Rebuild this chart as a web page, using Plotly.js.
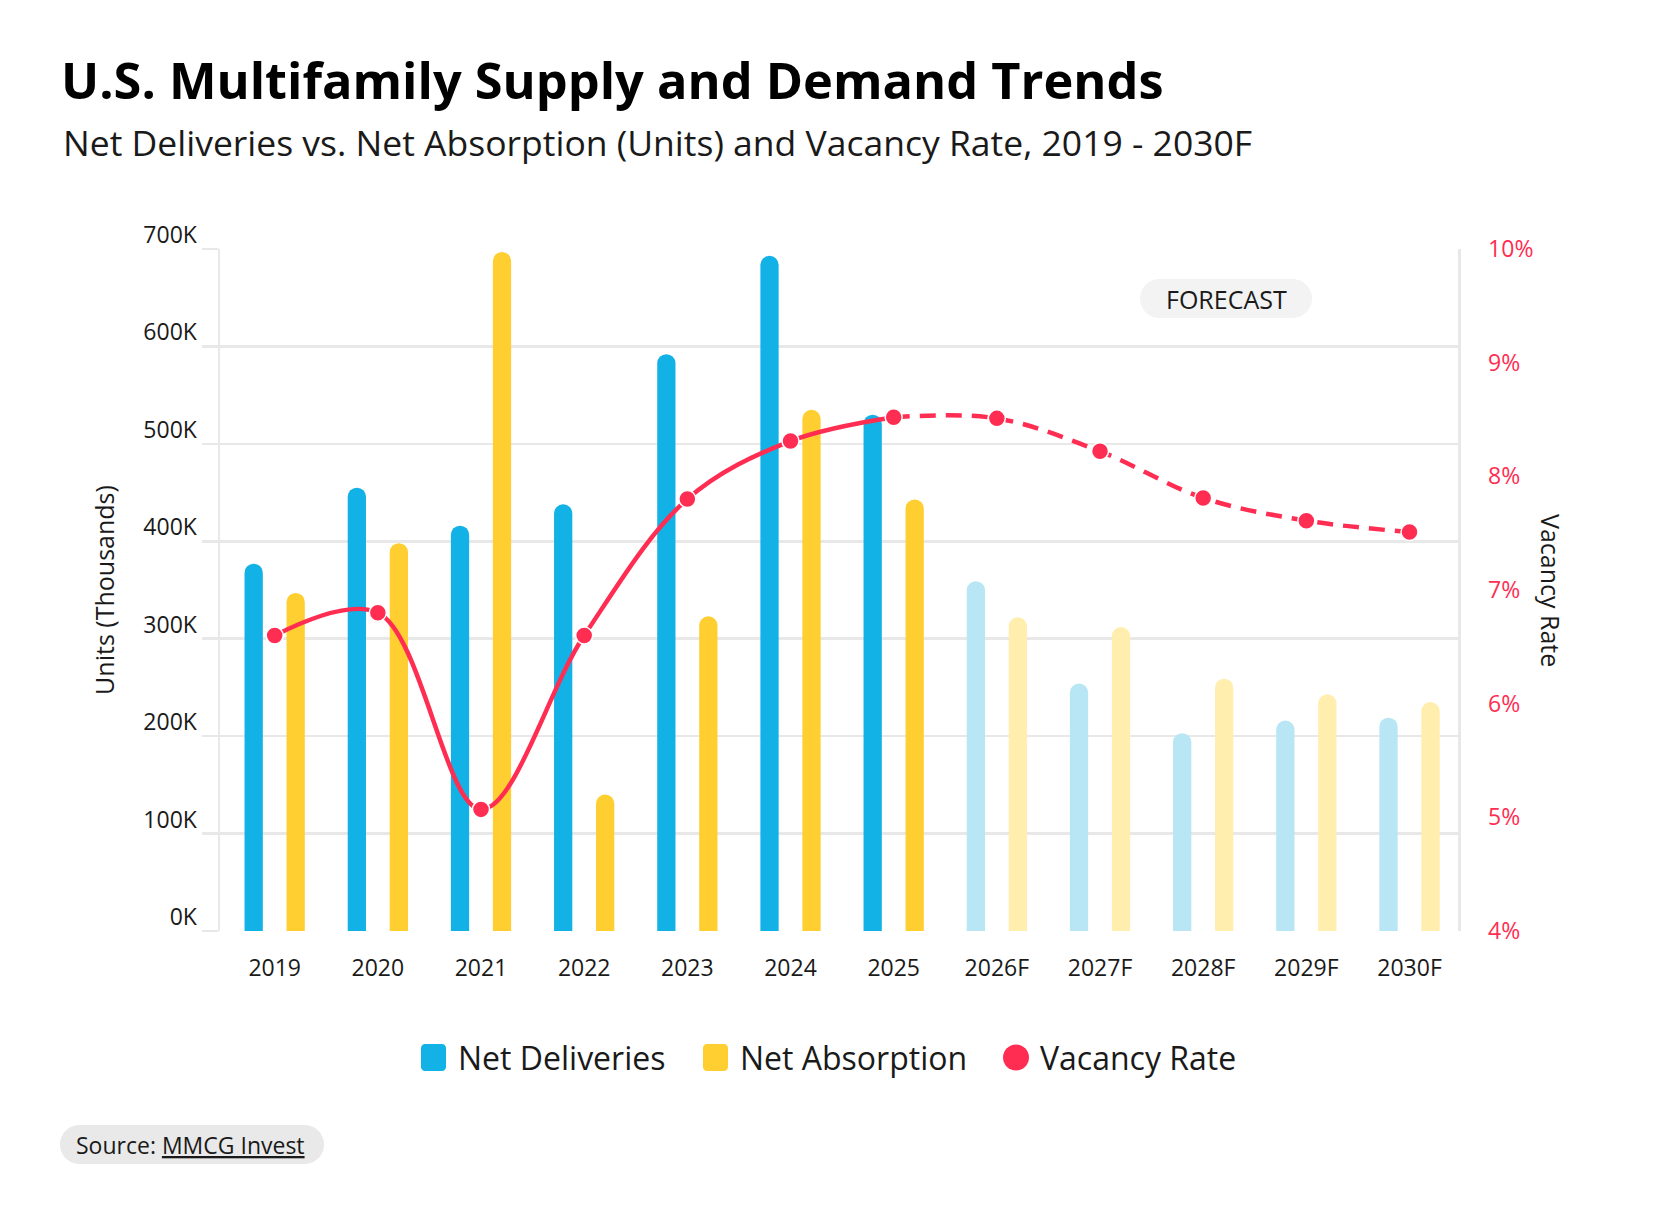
<!DOCTYPE html>
<html>
<head>
<meta charset="utf-8">
<script src="https://cdn.plot.ly/plotly-3.0.1.min.js"></script>
<style>
  html, body { margin: 0; padding: 0; background: #ffffff; }
  #chart { width: 1680px; height: 1209px; }
</style>
</head>
<body>
<div id="chart"></div>
<script>
// ---------- data ----------
const years = ['2019','2020','2021','2022','2023','2024','2025','2026F','2027F','2028F','2029F','2030F'];
const isForecast = [false,false,false,false,false,false,false,true,true,true,true,true];
const netDeliveries = [377, 455, 416, 438, 592, 693, 530, 359, 254, 203, 216, 219];   // thousands of units
const netAbsorption = [347, 398, 697, 140, 323, 535, 443, 322, 312, 259, 243, 235];   // thousands of units
const vacancyRate = [6.6, 6.8, 5.07, 6.6, 7.8, 8.31, 8.52, 8.51, 8.22, 7.81, 7.61, 7.51]; // percent
const unitTicks = [0, 100, 200, 300, 400, 500, 600, 700];
const unitTickLabels = ['0K','100K','200K','300K','400K','500K','600K','700K'];
const rateTicks = [4, 5, 6, 7, 8, 9, 10];
const rateTickLabels = ['4%','5%','6%','7%','8%','9%','10%'];

// ---------- style ----------
const FONT = '"Open Sans", "Noto Sans", sans-serif';
const BLUE = '#12B2E6', BLUE_L = '#B8E6F5';
const YELLOW = '#FFCE31', YELLOW_L = '#FFEEAD';
const RED = '#FF2D52';
const GRID = '#E8E8E8';
const TXT = '#1a1a1a';

const W = 1680, H = 1209;
const PL = 220, PR = 1458, PT = 249, PB = 931;
const xp = px => (px - PL) / (PR - PL);
const yp = py => (PB - py) / (PB - PT);

const lastActual = isForecast.indexOf(true) - 1;

const traces = [
  {
    type: 'bar', name: 'Net Deliveries', x: years, y: netDeliveries,
    width: 0.177, offset: -0.292,
    marker: { color: years.map((y, i) => isForecast[i] ? BLUE_L : BLUE), cornerradius: 9, line: {width: 0} },
    showlegend: false
  },
  {
    type: 'bar', name: 'Net Absorption', x: years, y: netAbsorption,
    width: 0.177, offset: 0.115,
    marker: { color: years.map((y, i) => isForecast[i] ? YELLOW_L : YELLOW), cornerradius: 9, line: {width: 0} },
    showlegend: false
  },
  {
    type: 'scatter', mode: 'lines', name: 'Vacancy Rate (actual)',
    x: years.slice(0, lastActual + 1), y: vacancyRate.slice(0, lastActual + 1), yaxis: 'y2',
    line: { color: RED, width: 4.5, shape: 'spline', smoothing: 1 },
    showlegend: false, hoverinfo: 'skip'
  },
  {
    type: 'scatter', mode: 'lines', name: 'Vacancy Rate (forecast)',
    x: years.slice(lastActual), y: vacancyRate.slice(lastActual), yaxis: 'y2',
    line: { color: RED, width: 4.5, shape: 'spline', smoothing: 1, dash: '16px,10px' },
    showlegend: false, hoverinfo: 'skip'
  },
  {
    type: 'scatter', mode: 'markers', name: 'Vacancy Rate',
    x: years, y: vacancyRate, yaxis: 'y2',
    marker: { color: RED, size: 17, line: { color: '#ffffff', width: 1.5 } },
    showlegend: false
  }
];

function roundRect(w, h, r) {
  const k = 0.5523 * r;
  return `M ${-w + r},${-h} L ${w - r},${-h} C ${w - r + k},${-h} ${w},${-h + r - k} ${w},${-h + r} ` +
         `L ${w},${h - r} C ${w},${h - r + k} ${w - r + k},${h} ${w - r},${h} ` +
         `L ${-w + r},${h} C ${-w + r - k},${h} ${-w},${h - r + k} ${-w},${h - r} ` +
         `L ${-w},${-h + r} C ${-w},${-h + r - k} ${-w + r - k},${-h} ${-w + r},${-h} Z`;
}
function pill(cx, cy, w, h, r, color) {
  return { type: 'path', xref: 'paper', yref: 'paper', xsizemode: 'pixel', ysizemode: 'pixel',
           xanchor: xp(cx), yanchor: yp(cy), path: roundRect(w / 2, h / 2, r),
           fillcolor: color, line: { width: 0 }, layer: 'below' };
}

const shapes = [
  pill(1226, 298.5, 172, 39, 19.5, '#F3F3F3'),
  pill(192, 1144.5, 264, 39, 19.5, '#E9E9E9'),
  // legend swatches
  Object.assign(pill(433.5, 1057.5, 25, 27, 4, BLUE), { layer: 'above' }),
  Object.assign(pill(715.5, 1057.5, 25, 27, 4, YELLOW), { layer: 'above' }),
  { type: 'circle', xref: 'paper', yref: 'paper', xsizemode: 'pixel', ysizemode: 'pixel',
    xanchor: xp(1016), yanchor: yp(1057.5), x0: -13, x1: 13, y0: -13, y1: 13,
    fillcolor: RED, line: { width: 0 } }
];

const annotations = [
  { text: 'Net Deliveries vs. Net Absorption (Units) and Vacancy Rate, 2019 - 2030F',
    xref: 'paper', yref: 'paper', x: xp(61), y: yp(142), xanchor: 'left', yanchor: 'middle',
    showarrow: false, font: { family: FONT, size: 35.5, color: TXT } },
  { text: 'FORECAST', xref: 'paper', yref: 'paper', x: xp(1226), y: yp(298.5),
    xanchor: 'center', yanchor: 'middle', showarrow: false,
    font: { family: FONT, size: 25, color: TXT } },
  { text: 'Vacancy Rate', xref: 'paper', yref: 'paper', x: xp(1551), y: yp(590),
    xanchor: 'center', yanchor: 'middle', textangle: 90, showarrow: false,
    font: { family: FONT, size: 25, color: TXT } },
  { text: 'Net Deliveries', xref: 'paper', yref: 'paper', x: xp(456), y: yp(1057.5),
    xanchor: 'left', yanchor: 'middle', showarrow: false, font: { family: FONT, size: 32, color: TXT } },
  { text: 'Net Absorption', xref: 'paper', yref: 'paper', x: xp(738), y: yp(1057.5),
    xanchor: 'left', yanchor: 'middle', showarrow: false, font: { family: FONT, size: 32, color: TXT } },
  { text: 'Vacancy Rate', xref: 'paper', yref: 'paper', x: xp(1038), y: yp(1057.5),
    xanchor: 'left', yanchor: 'middle', showarrow: false, font: { family: FONT, size: 32, color: TXT } },
  { text: 'Source: <u>MMCG Invest</u>', xref: 'paper', yref: 'paper', x: xp(74), y: yp(1144.5),
    xanchor: 'left', yanchor: 'middle', showarrow: false,
    font: { family: FONT, size: 23, color: TXT, weight: 500 } }
];

const layout = {
  width: W, height: H,
  paper_bgcolor: '#ffffff', plot_bgcolor: '#ffffff',
  margin: { l: PL, r: W - PR, t: PT, b: H - PB, pad: 0 },
  font: { family: FONT, color: TXT },
  title: {
    text: '<b>U.S. Multifamily Supply and Demand Trends</b>',
    xref: 'container', yref: 'container', x: 61 / W, xanchor: 'left',
    y: 1 - 81 / H, yanchor: 'middle',
    font: { family: FONT, size: 50.5, color: '#000000' }
  },
  barmode: 'overlay',
  showlegend: false,
  xaxis: {
    type: 'category', categoryorder: 'array', categoryarray: years, range: [-0.53, 11.47],
    showgrid: false, zeroline: false, showline: false, ticks: '',
    tickfont: { family: FONT, size: 23, color: TXT },
    ticklabelstandoff: 21, fixedrange: true
  },
  yaxis: {
    range: [0, 700], tickmode: 'array', tickvals: unitTicks, ticktext: unitTickLabels,
    showgrid: true, gridcolor: GRID, gridwidth: 2.5, zeroline: false,
    showline: true, linecolor: GRID, linewidth: 2.5,
    ticks: 'outside', ticklen: 16, tickwidth: 2.5, tickcolor: GRID,
    tickfont: { family: FONT, size: 23, color: TXT },
    ticklabelshift: -14, ticklabelstandoff: 0,
    title: { text: 'Units (Thousands)', font: { family: FONT, size: 25, color: TXT }, standoff: 22 },
    fixedrange: true
  },
  yaxis2: {
    overlaying: 'y', side: 'right', range: [4, 10], tickmode: 'array', tickvals: rateTicks,
    ticktext: rateTickLabels, showgrid: false, zeroline: false,
    showline: true, linecolor: GRID, linewidth: 2.5, ticks: '',
    tickfont: { family: FONT, size: 23, color: RED },
    ticklabelstandoff: 23, fixedrange: true
  },
  shapes: shapes,
  annotations: annotations
};

Plotly.newPlot('chart', traces, layout, { displayModeBar: false, staticPlot: true });
</script>
</body>
</html>
